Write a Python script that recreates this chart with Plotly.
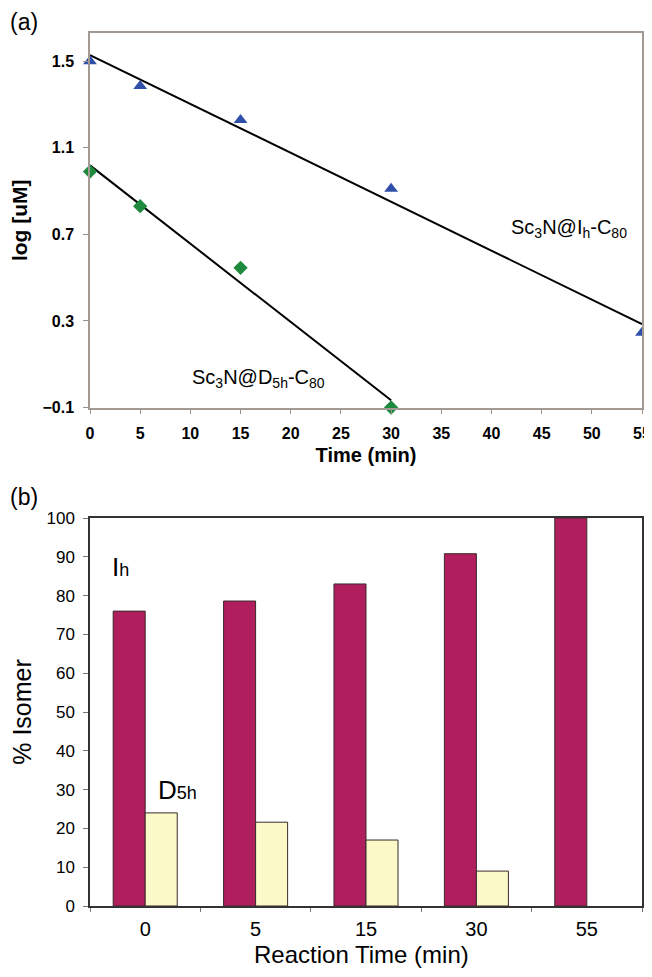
import numpy as np
import plotly.graph_objects as go

# ---------------- data ----------------
# (a) kinetics: log concentration vs time
time_ih = [0, 5, 15, 30, 55]
log_ih = [1.50, 1.385, 1.228, 0.91, 0.245]
time_d5h = [0, 5, 15, 30]
log_d5h = [0.99, 0.83, 0.545, -0.10]

# (b) isomer percentages
bar_categories = ["0", "5", "15", "30", "55"]
pct_ih = [76.0, 78.6, 83.0, 90.8, 100.0]
pct_d5h = [24.0, 21.6, 17.0, 9.0, 0.0]

x_ticks_a = list(range(0, 56, 5))
y_ticks_a = [-0.1, 0.3, 0.7, 1.1, 1.5]
y_ticks_b = list(range(0, 101, 10))

FONT = "Arial, Liberation Sans, sans-serif"
W, H = 652, 977          # browser window
PAD = 8                   # default body margin of the page
FW, FH = W - PAD, H - 2 * PAD   # figure size that fits the window

def px_x(x):
    return (x - PAD) / FW

def px_y(y):
    return 1 - (y - PAD) / FH

# linear trendlines fitted to the data
k1, b1 = np.polyfit(time_ih, log_ih, 1)
k2, b2 = np.polyfit(time_d5h, log_d5h, 1)
fit_ih_x = [min(time_ih), max(time_ih)]
fit_ih_y = [k1 * t + b1 for t in fit_ih_x]
fit_d5h_x = [min(time_d5h), max(time_d5h)]
fit_d5h_y = [k2 * t + b2 for t in fit_d5h_x]

fig = go.Figure()

# ---------- panel (a) ----------
fig.add_trace(go.Scatter(x=fit_ih_x, y=fit_ih_y, mode="lines",
                         line=dict(color="black", width=2), xaxis="x", yaxis="y",
                         showlegend=False, cliponaxis=False))
fig.add_trace(go.Scatter(x=fit_d5h_x, y=fit_d5h_y, mode="lines",
                         line=dict(color="black", width=2), xaxis="x", yaxis="y",
                         showlegend=False, cliponaxis=False))
fig.add_trace(go.Scatter(x=time_ih, y=log_ih, mode="markers",
                         marker=dict(symbol="triangle-up", size=12, color="#2f4fa8"),
                         xaxis="x", yaxis="y", showlegend=False, cliponaxis=False))
fig.add_trace(go.Scatter(x=time_d5h, y=log_d5h, mode="markers",
                         marker=dict(symbol="diamond", size=11, color="#1e8a3e"),
                         xaxis="x", yaxis="y", showlegend=False, cliponaxis=False))

# ---------- panel (b) ----------
outline_w = [1 if v > 0 else 0 for v in pct_d5h]
fig.add_trace(go.Bar(x=bar_categories, y=pct_ih, marker=dict(color="#b01e5e",
                     line=dict(color="#3a2a2a", width=1)), xaxis="x2", yaxis="y2",
                     showlegend=False))
fig.add_trace(go.Bar(x=bar_categories, y=pct_d5h, marker=dict(color="#fcf9c9",
                     line=dict(color="#3a2a2a", width=outline_w)), xaxis="x2", yaxis="y2",
                     showlegend=False))

x_dom = [px_x(90), px_x(642)]

fig.update_layout(
    width=FW, height=FH,
    margin=dict(l=0, r=0, t=0, b=0),
    paper_bgcolor="white", plot_bgcolor="white",
    font=dict(family=FONT, color="black", size=15),
    barmode="group", bargap=0.42, bargroupgap=0,
    xaxis=dict(domain=x_dom, anchor="y", range=[0, 55], tickvals=x_ticks_a,
               automargin=False, ticklabeloverflow="allow",
               ticks="outside", ticklen=5, tickcolor="#9a918a", tickwidth=1,
               showline=True, linecolor="#a39a93", linewidth=1.5, mirror=True,
               showgrid=False, zeroline=False,
               tickfont=dict(size=16, family=FONT, weight="bold"), ticklabelstandoff=6,
               title=dict(text="Time (min)", font=dict(size=20, family=FONT, weight="bold"),
                          standoff=7)),
    yaxis=dict(domain=[px_y(407.5), px_y(33)], anchor="x", range=[-0.1, 1.63],
               tickvals=y_ticks_a, tickformat=".1f",
               automargin=False,
               ticks="outside", ticklen=5, tickcolor="#9a918a", tickwidth=1,
               showline=True, linecolor="#a39a93", linewidth=1.5, mirror=True,
               showgrid=False, zeroline=False,
               tickfont=dict(size=16, family=FONT, weight="bold"), ticklabelstandoff=6,
               title=dict(text="log [uM]", font=dict(size=21, family=FONT, weight="bold"),
                          standoff=13)),
    xaxis2=dict(domain=x_dom, anchor="y2", type="category", automargin=False,
                ticks="outside", ticklen=4, tickson="boundaries",
                tickcolor="#777", showline=True, linecolor="#333", linewidth=1.5,
                mirror=True, showgrid=False, zeroline=False,
                tickfont=dict(size=20, family=FONT), ticklabelstandoff=4),
    yaxis2=dict(domain=[px_y(906), px_y(518)], anchor="x2", range=[0, 100],
                tickvals=y_ticks_b, ticks="outside", ticklen=5, tickcolor="#777",
                automargin=False,
                showline=True, linecolor="#333", linewidth=1.5, mirror=True,
                showgrid=False, zeroline=False,
                tickfont=dict(size=17, family=FONT), ticklabelstandoff=5,
                title=dict(text="% Isomer", font=dict(size=25, family=FONT),
                           standoff=13)),
)

annotations = [
    dict(text="(a)", x=px_x(8), y=px_y(22), xanchor="left", yanchor="middle",
         font=dict(size=23)),
    dict(text="(b)", x=px_x(8), y=px_y(497), xanchor="left", yanchor="middle",
         font=dict(size=23)),
    dict(text="Reaction Time (min)", x=px_x(361), y=px_y(954), xanchor="center",
         yanchor="middle", font=dict(size=24)),
    dict(text="Sc<sub>3</sub>N@I<sub>h</sub>-C<sub>80</sub>", x=px_x(569), y=px_y(229),
         xanchor="center", yanchor="middle", font=dict(size=20)),
    dict(text="Sc<sub>3</sub>N@D<sub>5h</sub>-C<sub>80</sub>", x=px_x(258), y=px_y(379),
         xanchor="center", yanchor="middle", font=dict(size=20)),
    dict(text="I<span style='font-size:18px'>h</span>", x=px_x(110), y=px_y(567),
         xanchor="left", yanchor="middle", font=dict(size=26)),
    dict(text="D<span style='font-size:18px'>5h</span>", x=px_x(156), y=px_y(790),
         xanchor="left", yanchor="middle", font=dict(size=26)),
]
for a in annotations:
    a.update(xref="paper", yref="paper", showarrow=False)
    a["font"].update(family=FONT, color="black")
fig.update_layout(annotations=annotations)

fig.write_html("out.html")
